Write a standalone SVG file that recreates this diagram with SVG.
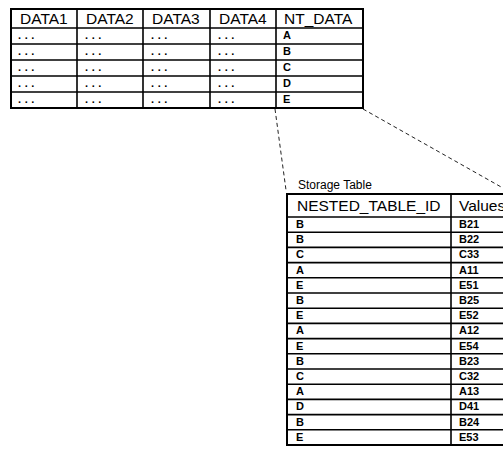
<svg xmlns="http://www.w3.org/2000/svg" width="503" height="453" viewBox="0 0 503 453">
<style>
.bg{fill:#fff}
.frame{fill:none;stroke:#000;stroke-width:2}
.grid{stroke:#000;stroke-width:1.6}
.hdr{font-family:"Liberation Sans",Arial,sans-serif;font-size:15.5px;fill:#000}
.cell{font-family:"Liberation Sans",Arial,sans-serif;font-size:11px;font-weight:bold;fill:#000}
.dots{font-family:"Liberation Sans",Arial,sans-serif;font-size:11px;font-weight:bold;letter-spacing:3.6px;fill:#000}
.cap{font-family:"Liberation Sans",Arial,sans-serif;font-size:12px;fill:#000}
.dash{stroke:#222;stroke-width:1;fill:none;stroke-dasharray:4,3}
</style>
<rect class="bg" width="503" height="453"/>
<g id="connectors">
<line class="dash" x1="275" y1="109" x2="286" y2="190"/>
<line class="dash" x1="363" y1="109" x2="510" y2="192"/>
</g>
<g id="main_table">
<rect class="frame" x="11" y="9" width="352" height="99"/>
<line class="grid" x1="77" y1="9" x2="77" y2="108"/>
<line class="grid" x1="143" y1="9" x2="143" y2="108"/>
<line class="grid" x1="210" y1="9" x2="210" y2="108"/>
<line class="grid" x1="276" y1="9" x2="276" y2="108"/>
<line class="grid" x1="11" y1="28" x2="363" y2="28"/>
<line class="grid" x1="11" y1="44" x2="363" y2="44"/>
<line class="grid" x1="11" y1="60" x2="363" y2="60"/>
<line class="grid" x1="11" y1="76" x2="363" y2="76"/>
<line class="grid" x1="11" y1="92" x2="363" y2="92"/>
<text class="hdr" x="20" y="24">DATA1</text>
<text class="hdr" x="86" y="24">DATA2</text>
<text class="hdr" x="152" y="24">DATA3</text>
<text class="hdr" x="219" y="24">DATA4</text>
<text class="hdr" x="284" y="24">NT_DATA</text>
<g class="dots">
<text x="18" y="39">...</text><text x="85" y="39">...</text><text x="151" y="39">...</text><text x="218" y="39">...</text>
<text x="18" y="55">...</text><text x="85" y="55">...</text><text x="151" y="55">...</text><text x="218" y="55">...</text>
<text x="18" y="71">...</text><text x="85" y="71">...</text><text x="151" y="71">...</text><text x="218" y="71">...</text>
<text x="18" y="87">...</text><text x="85" y="87">...</text><text x="151" y="87">...</text><text x="218" y="87">...</text>
<text x="18" y="103">...</text><text x="85" y="103">...</text><text x="151" y="103">...</text><text x="218" y="103">...</text>
</g>
<text class="cell" x="283" y="39">A</text>
<text class="cell" x="283" y="55">B</text>
<text class="cell" x="283" y="71">C</text>
<text class="cell" x="283" y="87">D</text>
<text class="cell" x="283" y="103">E</text>
</g>
<g id="storage_table">
<text class="cap" x="298" y="189">Storage Table</text>
<rect class="frame" x="287" y="194" width="260" height="251"/>
<line class="grid" x1="451" y1="194" x2="451" y2="445"/>
<line class="grid" x1="287" y1="217" x2="503" y2="217"/>
<line class="grid" x1="287" y1="232.2" x2="503" y2="232.2"/>
<line class="grid" x1="287" y1="247.4" x2="503" y2="247.4"/>
<line class="grid" x1="287" y1="262.6" x2="503" y2="262.6"/>
<line class="grid" x1="287" y1="277.8" x2="503" y2="277.8"/>
<line class="grid" x1="287" y1="293" x2="503" y2="293"/>
<line class="grid" x1="287" y1="308.2" x2="503" y2="308.2"/>
<line class="grid" x1="287" y1="323.4" x2="503" y2="323.4"/>
<line class="grid" x1="287" y1="338.6" x2="503" y2="338.6"/>
<line class="grid" x1="287" y1="353.8" x2="503" y2="353.8"/>
<line class="grid" x1="287" y1="369" x2="503" y2="369"/>
<line class="grid" x1="287" y1="384.2" x2="503" y2="384.2"/>
<line class="grid" x1="287" y1="399.4" x2="503" y2="399.4"/>
<line class="grid" x1="287" y1="414.6" x2="503" y2="414.6"/>
<line class="grid" x1="287" y1="429.8" x2="503" y2="429.8"/>
<text class="hdr" x="297" y="211">NESTED_TABLE_ID</text>
<text class="hdr" x="459" y="211">Values</text>
<g class="cell">
<text x="296" y="228">B</text><text x="459" y="228">B21</text>
<text x="296" y="243.2">B</text><text x="459" y="243.2">B22</text>
<text x="296" y="258.4">C</text><text x="459" y="258.4">C33</text>
<text x="296" y="273.6">A</text><text x="459" y="273.6">A11</text>
<text x="296" y="288.8">E</text><text x="459" y="288.8">E51</text>
<text x="296" y="304">B</text><text x="459" y="304">B25</text>
<text x="296" y="319.2">E</text><text x="459" y="319.2">E52</text>
<text x="296" y="334.4">A</text><text x="459" y="334.4">A12</text>
<text x="296" y="349.6">E</text><text x="459" y="349.6">E54</text>
<text x="296" y="364.8">B</text><text x="459" y="364.8">B23</text>
<text x="296" y="380">C</text><text x="459" y="380">C32</text>
<text x="296" y="395.2">A</text><text x="459" y="395.2">A13</text>
<text x="296" y="410.4">D</text><text x="459" y="410.4">D41</text>
<text x="296" y="425.6">B</text><text x="459" y="425.6">B24</text>
<text x="296" y="440.8">E</text><text x="459" y="440.8">E53</text>
</g>
</g>
</svg>
